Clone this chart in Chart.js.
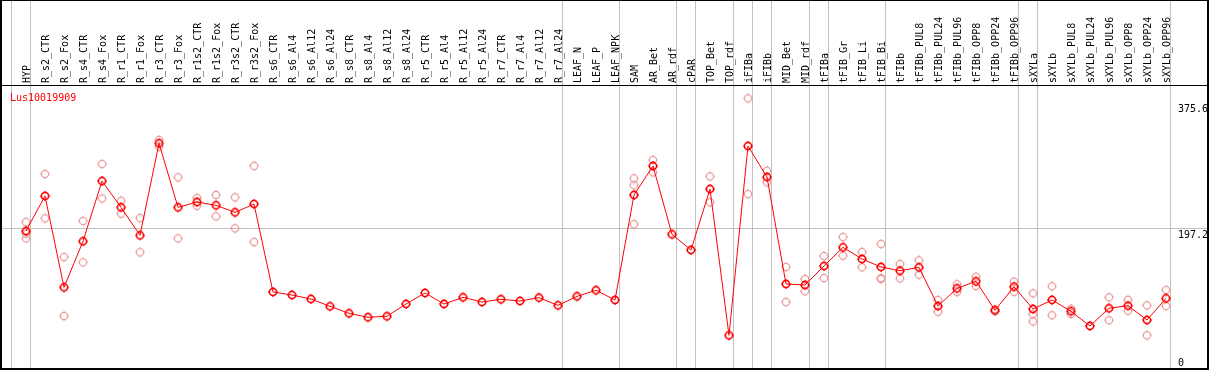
<!DOCTYPE html>
<html>
<head>
<meta charset="utf-8">
<script src="https://cdn.jsdelivr.net/npm/chart.js@4"></script>
<style>
  body { margin: 0; background: #fff; }
  #wrap { width: 1209px; height: 370px; }
</style>
</head>
<body>
<div id="wrap"><canvas id="chart" width="1209" height="370"></canvas></div>
<script>
const geneName = 'Lus10019909';

const categories = [
  'HYP', 'R_s2_CTR', 'R_s2_Fox', 'R_s4_CTR', 'R_s4_Fox', 'R_r1_CTR', 'R_r1_Fox', 'R_r3_CTR', 'R_r3_Fox',
  'R_r1s2_CTR', 'R_r1s2_Fox', 'R_r3s2_CTR', 'R_r3s2_Fox', 'R_s6_CTR', 'R_s6_Al4', 'R_s6_Al12', 'R_s6_Al24',
  'R_s8_CTR', 'R_s8_Al4', 'R_s8_Al12', 'R_s8_Al24', 'R_r5_CTR', 'R_r5_Al4', 'R_r5_Al12', 'R_r5_Al24',
  'R_r7_CTR', 'R_r7_Al4', 'R_r7_Al12', 'R_r7_Al24', 'LEAF_N', 'LEAF_P', 'LEAF_NPK', 'SAM', 'AR_Bet', 'AR_rdf',
  'cPAR', 'TOP_Bet', 'TOP_rdf', 'iFIBa', 'iFIBb', 'MID_Bet', 'MID_rdf', 'tFIBa', 'tFIB_Gr', 'tFIB_Li', 'tFIB_Bi',
  'tFIBb', 'tFIBb_PUL8', 'tFIBb_PUL24', 'tFIBb_PUL96', 'tFIBb_OPP8', 'tFIBb_OPP24', 'tFIBb_OPP96',
  'sXYLa', 'sXYLb', 'sXYLb_PUL8', 'sXYLb_PUL24', 'sXYLb_PUL96', 'sXYLb_OPP8', 'sXYLb_OPP24', 'sXYLb_OPP96'
];

// mean expression per sample
const means = [
  193.6, 243.5, 113.4, 179, 264.8, 227.3, 187.5, 318.5, 227.3, 234.9, 230.2, 220.2, 232,
  106.8, 102.5, 96.8, 86.4, 76.4, 70.8, 72.2, 89.7, 105.4, 89.7, 99.2, 92.5, 96.4, 94, 98.7, 87.8, 100.6, 109.2, 95.4,
  244.9, 286.2, 188.9, 166.6, 253.4, 45.1, 314.6, 270.5, 118.2, 116.7, 143.8, 170.4, 153.8, 142.4, 137.1,
  141.9, 86.8, 112, 122, 80.7, 114.3, 82.6, 95.4, 79.3, 58.4, 83.6, 87.3, 66.9, 97.8
];

// individual replicates (null = not shown)
const rep1 = [
  206.4, 274.8, 156.6, 207.9, 289, 236.8, 212, 323.2, 270, 240.6, 244.9, 241.6, 286.2,
  null, null, null, null, null, null, null, null, null, null, null, null, null, null, null, null, null, null, null,
  268.6, 294.7, null, null, 271.5, null, 382.5, 279.5, 142.4, 125.3, 158, 185, 163.7, 175.1, 146.6,
  151.9, 95.4, 117.7, 128.6, 82, 121.4, 104.9, 114.9, 83, null, 99.2, 95.4, 87.8, 109.6
];
const rep2 = [
  190, 211.7, 72.6, 149, 240, 218.3, 163.3, 313.7, 183.2, 229.6, 214.5, 197.5, 178,
  null, null, null, null, null, null, null, null, null, null, null, null, null, null, null, null, null, null, null,
  258.7, 277.2, null, null, 234.5, null, 246.3, 263, 92.5, 107.8, 126.7, 158.5, 141.9, 126.7, 126.2,
  131.4, 78.7, 106.8, 115.3, 79.5, 107.2, 75, 73.6, 75.5, null, 66.5, 80.2, 45.1, 86.8
];
const rep3 = [
  183.2, null, null, null, null, null, null, null, null, null, null, null, null,
  null, null, null, null, null, null, null, null, null, null, null, null, null, null, null, null, null, null, null,
  203.2, null, null, null, null, null, null, null, null, null, null, null, null, 125.3, null,
  null, null, null, null, null, null, 65, null, null, null, null, null, null, null
];

// last sample index of each group (gray separators)
const groupEnds = [-1, 0, 28, 31, 34, 35, 37, 38, 39, 41, 42, 45, 52, 53, 60];

const yTicks = [375.6, 197.2, 0];
const yTickLabels = ['375.6', '197.2', '0'];
const gridValue = 197.2;

const FONT = '10px "DejaVu Sans Mono"';

function marker(color, lw) {
  const c = document.createElement('canvas');
  c.width = 14; c.height = 14;
  const g = c.getContext('2d');
  g.strokeStyle = color;
  g.lineWidth = lw;
  g.beginPath();
  g.arc(7, 7, 3.6, 0, Math.PI * 2);
  g.stroke();
  g.lineWidth = 1;
  g.beginPath();
  g.moveTo(7, 2); g.lineTo(7, 3.5);
  g.moveTo(7, 10.5); g.lineTo(7, 12);
  g.moveTo(2, 7); g.lineTo(3.5, 7);
  g.moveTo(10.5, 7); g.lineTo(12, 7);
  g.stroke();
  return c;
}

const toPoints = arr => arr.map((v, i) => (v == null ? null : { x: i, y: v })).filter(Boolean);

const repColor = '#ec9c9c';
const repMarker = marker(repColor, 1.2);
const meanMarker = marker('#ff0000', 1.6);

const framePlugin = {
  id: 'frame',
  beforeDatasetsDraw(chart) {
    const ctx = chart.ctx, xs = chart.scales.x, ys = chart.scales.y;
    ctx.save();
    ctx.fillStyle = '#c0c0c0';
    groupEnds.forEach(i => {
      ctx.fillRect(Math.floor(xs.getPixelForValue(i) + 4.5), 0, 1, 369);
    });
    ctx.fillRect(2, Math.floor(ys.getPixelForValue(gridValue)), 1205, 1);
    ctx.restore();
  },
  afterDraw(chart) {
    const ctx = chart.ctx, xs = chart.scales.x, ys = chart.scales.y;
    ctx.save();
    ctx.font = FONT;
    ctx.fillStyle = '#000';
    ctx.textAlign = 'left';
    ctx.textBaseline = 'alphabetic';
    categories.forEach((name, i) => {
      ctx.save();
      ctx.translate(Math.round(xs.getPixelForValue(i)) + 4, 83);
      ctx.rotate(-Math.PI / 2);
      ctx.fillText(name, 0, 0);
      ctx.restore();
    });
    yTicks.forEach((v, k) => {
      const py = Math.min(ys.getPixelForValue(v) + 9, 366);
      ctx.fillText(yTickLabels[k], 1178, py);
    });
    ctx.fillStyle = '#ff0000';
    ctx.fillText(geneName, 10, 101);
    // frame
    ctx.fillStyle = '#000';
    ctx.fillRect(0, 0, 1209, 1);
    ctx.fillRect(0, 85, 1209, 1);
    ctx.fillRect(0, 368, 1209, 2);
    ctx.fillRect(0, 0, 2, 370);
    ctx.fillRect(1207, 0, 2, 370);
    ctx.restore();
  }
};

const repSet = data => ({
  data: toPoints(data),
  showLine: false,
  pointStyle: repMarker,
  pointRadius: 4,
  borderColor: repColor
});

new Chart(document.getElementById('chart'), {
  type: 'line',
  data: {
    datasets: [
      {
        data: toPoints(means),
        borderColor: '#ff0000',
        borderWidth: 1,
        pointStyle: meanMarker,
        pointRadius: 4,
        tension: 0
      },
      repSet(rep1),
      repSet(rep2),
      repSet(rep3)
    ]
  },
  options: {
    responsive: false,
    animation: false,
    events: [],
    layout: { autoPadding: false, padding: { left: 2, right: 2, top: 86, bottom: 2 } },
    scales: {
      x: { type: 'linear', min: -1.26316, max: 62.1579, display: false },
      y: { min: -1.424, max: 400.1, display: false }
    },
    plugins: {
      legend: { display: false },
      tooltip: { enabled: false }
    }
  },
  plugins: [framePlugin]
});
</script>
</body>
</html>
